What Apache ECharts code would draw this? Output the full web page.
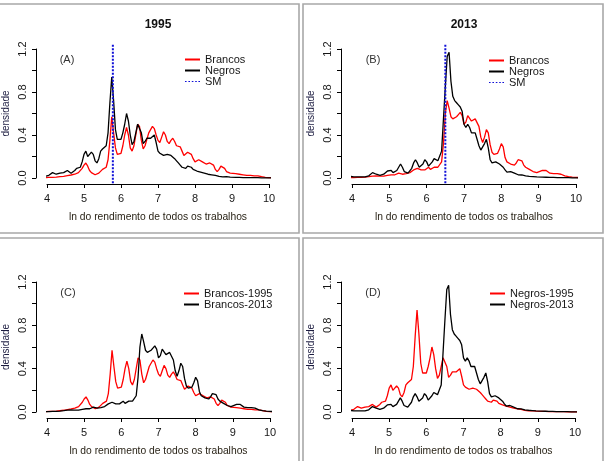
<!DOCTYPE html>
<html>
<head>
<meta charset="utf-8">
<script src="https://cdn.jsdelivr.net/npm/echarts@6/dist/echarts.min.js"></script>
<style>
html,body{margin:0;padding:0;background:#fff;}
#c{width:607px;height:461px;}
</style>
</head>
<body>
<div id="c"></div>
<script>
// ln income grid (shared by all density curves)
const xs = [
  3.75,3.8,3.85,3.9,3.95,4,4.05,4.1,4.15,4.2,
  4.25,4.3,4.35,4.4,4.45,4.5,4.55,4.6,4.65,4.7,
  4.75,4.8,4.85,4.9,4.95,5,5.05,5.1,5.15,5.2,
  5.25,5.3,5.35,5.4,5.45,5.5,5.55,5.6,5.65,5.7,
  5.75,5.8,5.85,5.9,5.95,6,6.05,6.1,6.15,6.2,
  6.25,6.3,6.35,6.4,6.45,6.5,6.55,6.6,6.65,6.7,
  6.75,6.8,6.85,6.9,6.95,7,7.05,7.1,7.15,7.2,
  7.25,7.3,7.35,7.4,7.45,7.5,7.55,7.6,7.65,7.7,
  7.75,7.8,7.85,7.9,7.95,8,8.05,8.1,8.15,8.2,
  8.25,8.3,8.35,8.4,8.45,8.5,8.55,8.6,8.65,8.7,
  8.75,8.8,8.85,8.9,8.95,9,9.1,9.2,9.3,9.4,
  9.5,9.6,9.7,9.8,9.9,10,10.1,10.25
];
const brancos1995 = [
  0.002,0.003,0.004,0.004,0.004,0.005,0.005,0.006,0.006,0.007,
  0.008,0.01,0.012,0.014,0.016,0.02,0.022,0.025,0.028,0.03,
  0.035,0.045,0.05,0.06,0.09,0.12,0.14,0.11,0.07,0.05,
  0.035,0.03,0.035,0.045,0.06,0.08,0.085,0.1,0.17,0.35,
  0.57,0.42,0.28,0.22,0.21,0.23,0.3,0.4,0.47,0.4,
  0.28,0.25,0.3,0.4,0.5,0.48,0.35,0.27,0.3,0.36,
  0.42,0.45,0.48,0.46,0.4,0.35,0.33,0.38,0.43,0.4,
  0.34,0.32,0.35,0.37,0.34,0.3,0.29,0.29,0.25,0.21,
  0.2,0.24,0.25,0.22,0.18,0.15,0.16,0.17,0.16,0.15,
  0.14,0.13,0.14,0.14,0.15,0.12,0.08,0.06,0.08,0.11,
  0.12,0.09,0.06,0.05,0.045,0.045,0.04,0.035,0.03,0.025,
  0.025,0.02,0.02,0.012,0.006,0.004,0.003,0.002
];
const negros1995 = [
  0.005,0.015,0.025,0.02,0.015,0.02,0.025,0.03,0.05,0.045,
  0.035,0.04,0.045,0.05,0.05,0.05,0.07,0.06,0.045,0.05,
  0.07,0.09,0.1,0.1,0.15,0.22,0.25,0.2,0.22,0.24,
  0.22,0.16,0.14,0.18,0.25,0.27,0.26,0.3,0.42,0.7,
  0.94,0.72,0.45,0.36,0.35,0.36,0.42,0.5,0.6,0.53,
  0.4,0.31,0.34,0.42,0.5,0.5,0.42,0.32,0.34,0.37,
  0.37,0.37,0.38,0.4,0.33,0.25,0.23,0.22,0.21,0.21,
  0.22,0.22,0.21,0.2,0.18,0.16,0.14,0.12,0.1,0.09,
  0.09,0.11,0.12,0.1,0.08,0.07,0.065,0.06,0.055,0.05,
  0.045,0.04,0.035,0.03,0.03,0.025,0.025,0.02,0.015,0.01,
  0.01,0.012,0.012,0.01,0.008,0.006,0.005,0.005,0.004,0.004,
  0.003,0.003,0.003,0.002,0.002,0.002,0.001,0.001
];
const brancos2013 = [
  0.002,0.002,0.003,0.003,0.003,0.004,0.004,0.004,0.005,0.005,
  0.006,0.007,0.008,0.01,0.012,0.015,0.018,0.02,0.02,0.02,
  0.018,0.016,0.017,0.02,0.025,0.03,0.03,0.028,0.03,0.035,
  0.045,0.045,0.035,0.035,0.04,0.045,0.05,0.06,0.075,0.09,
  0.09,0.08,0.075,0.07,0.075,0.085,0.1,0.08,0.08,0.1,
  0.11,0.1,0.11,0.15,0.32,0.6,0.72,0.65,0.57,0.55,
  0.55,0.57,0.59,0.61,0.58,0.5,0.52,0.58,0.58,0.53,
  0.53,0.55,0.55,0.48,0.38,0.33,0.38,0.45,0.42,0.31,
  0.24,0.22,0.22,0.23,0.27,0.32,0.29,0.19,0.15,0.14,
  0.13,0.12,0.12,0.14,0.17,0.18,0.16,0.12,0.1,0.09,
  0.08,0.07,0.06,0.055,0.05,0.055,0.07,0.07,0.045,0.04,
  0.04,0.035,0.02,0.012,0.008,0.005,0.004,0.002
];
const negros2013 = [
  0.005,0.015,0.025,0.02,0.015,0.012,0.01,0.01,0.01,0.01,
  0.01,0.01,0.01,0.012,0.02,0.03,0.05,0.05,0.035,0.03,
  0.025,0.025,0.035,0.05,0.065,0.08,0.07,0.05,0.05,0.07,
  0.1,0.13,0.1,0.06,0.045,0.045,0.06,0.09,0.14,0.17,
  0.14,0.1,0.1,0.13,0.17,0.15,0.11,0.11,0.15,0.18,
  0.17,0.16,0.17,0.25,0.55,0.85,1.13,1.17,0.9,0.76,
  0.72,0.7,0.68,0.66,0.62,0.5,0.47,0.5,0.47,0.42,
  0.42,0.42,0.36,0.3,0.26,0.25,0.32,0.36,0.28,0.17,
  0.14,0.14,0.15,0.14,0.13,0.12,0.1,0.075,0.055,0.05,
  0.06,0.055,0.045,0.035,0.03,0.03,0.028,0.025,0.02,0.018,
  0.016,0.015,0.013,0.012,0.01,0.01,0.008,0.007,0.006,0.005,
  0.004,0.004,0.003,0.003,0.002,0.002,0.001,0.001
];
// ln of the minimum wage (SM) in each year
const smLn1995 = 5.78;
const smLn2013 = 6.5;
// axis ticks
const xTicks = [4,5,6,7,8,9,10];
const yTicks = [0,0.2,0.4,0.6,0.8,1.0,1.2];
const yLabels = [0,0.4,0.8,1.2];
// R plot region vertical extent (ylim extended 4%)
const yUsr = [-0.048, 1.248];

const FONT = 'Liberation Sans, Arial, sans-serif';
const TXT = '#161616';
const DOTTED_ICON = 'path://M0 0h1.6v1h-1.6z M3.4 0h1.6v1h-1.6z M6.8 0h1.6v1h-1.6z M10.2 0h1.6v1h-1.6z M13.4 0h1.6v1h-1.6z';

const panels = [
  {grid:{left:47, top:49, width:222, height:129}, title:'1995', tag:'(A)', tagPos:[67,60],
   lines:[{name:'Brancos', y:brancos1995, color:'#ff0000'},{name:'Negros', y:negros1995, color:'#000000'}],
   sm:smLn1995, legend:{left:185, top:54, rows:10.5}},
  {grid:{left:352, top:49, width:224, height:129}, title:'2013', tag:'(B)', tagPos:[373,60],
   lines:[{name:'Brancos', y:brancos2013, color:'#ff0000'},{name:'Negros', y:negros2013, color:'#000000'}],
   sm:smLn2013, legend:{left:489, top:55, rows:10.5}},
  {grid:{left:47, top:282, width:223, height:130}, title:null, tag:'(C)', tagPos:[68,293],
   lines:[{name:'Brancos-1995', y:brancos1995, color:'#ff0000'},{name:'Brancos-2013', y:brancos2013, color:'#000000'}],
   sm:null, legend:{left:184, top:288, rows:9}},
  {grid:{left:352, top:282, width:223, height:130}, title:null, tag:'(D)', tagPos:[373,293],
   lines:[{name:'Negros-1995', y:negros1995, color:'#ff0000'},{name:'Negros-2013', y:negros2013, color:'#000000'}],
   sm:null, legend:{left:490, top:288, rows:9}}
];

const grid=[], xAxis=[], yAxis=[], series=[], legend=[], graphic=[];

// panel frames
graphic.push(
  {type:'rect', shape:{x:-3, y:4, width:302, height:229}, style:{fill:'none', stroke:'#a8a8a8', lineWidth:1.6}, silent:true},
  {type:'rect', shape:{x:303, y:4, width:300, height:229}, style:{fill:'none', stroke:'#a8a8a8', lineWidth:1.6}, silent:true},
  {type:'rect', shape:{x:-3, y:238, width:302, height:240}, style:{fill:'none', stroke:'#a8a8a8', lineWidth:1.6}, silent:true},
  {type:'rect', shape:{x:303, y:238, width:300, height:240}, style:{fill:'none', stroke:'#a8a8a8', lineWidth:1.6}, silent:true}
);

panels.forEach((p, i) => {
  grid.push(Object.assign({containLabel:false}, p.grid));
  xAxis.push({
    type:'value', gridIndex:i, min:xTicks[0], max:xTicks[xTicks.length-1], interval:1,
    offset:6,
    axisLine:{show:true, onZero:false, lineStyle:{color:'#000', width:1}},
    axisTick:{show:true, length:4, lineStyle:{color:'#000', width:1}},
    axisLabel:{show:true, margin:9, fontSize:11, color:TXT, fontFamily:FONT},
    splitLine:{show:false},
    name:'ln do rendimento de todos os trabalhos', nameLocation:'middle', nameGap:28.5,
    nameTextStyle:{fontSize:10.3, color:'#2a2418', fontFamily:FONT}
  });
  yAxis.push({
    type:'value', gridIndex:i, min:yTicks[0], max:yTicks[yTicks.length-1], interval:0.2,
    offset:11,
    axisLine:{show:true, onZero:false, lineStyle:{color:'#000', width:1}},
    axisTick:{show:true, length:4, customValues:yTicks, lineStyle:{color:'#000', width:1}},
    axisLabel:{show:true, customValues:yLabels, rotate:90, margin:8, fontSize:11, color:TXT, fontFamily:FONT,
      formatter:(v)=>Number(v).toFixed(1)},
    splitLine:{show:false},
    name:'densidade', nameLocation:'middle', nameGap:25, nameRotate:90,
    nameTextStyle:{fontSize:10, color:'#1c1c40', fontFamily:FONT}
  });
  p.lines.forEach(l => {
    series.push({
      type:'line', name:l.name, xAxisIndex:i, yAxisIndex:i, clip:false,
      showSymbol:false, symbol:'none', smooth:false, silent:true, animation:false,
      lineStyle:{color:l.color, width:1.3}, itemStyle:{color:l.color},
      data: xs.map((x,k)=>[x, l.y[k]])
    });
  });
  const names = p.lines.map(l=>({name:l.name, icon:'rect'}));
  if (p.sm !== null) {
    series.push({
      type:'line', name:'SM', xAxisIndex:i, yAxisIndex:i, clip:false,
      showSymbol:false, symbol:'none', silent:true, animation:false,
      lineStyle:{color:'#1010d8', width:2, type:[2,1.5]}, itemStyle:{color:'#1010d8'},
      data: yUsr.map(y=>[p.sm, y])
    });
    names.push({name:'SM', icon:DOTTED_ICON});
  }
  legend.push({
    data:names, orient:'vertical', left:p.legend.left, top:p.legend.top, padding:0,
    itemWidth:15, itemHeight:2, itemGap:0, selectedMode:false,
    textStyle:{fontSize:11, lineHeight:p.legend.rows, color:TXT, fontFamily:FONT}
  });
  if (p.title) {
    graphic.push({type:'text', x:p.grid.left + p.grid.width/2, y:25, silent:true,
      style:{text:p.title, fontSize:12, fontWeight:'bold', fill:'#111', fontFamily:FONT,
        textAlign:'center', textVerticalAlign:'middle'}});
  }
  graphic.push({type:'text', x:p.tagPos[0], y:p.tagPos[1], silent:true,
    style:{text:p.tag, fontSize:11, fill:'#333', fontFamily:FONT, textAlign:'center', textVerticalAlign:'middle'}});
});

const chart = echarts.init(document.getElementById('c'), null, {renderer:'canvas'});
chart.setOption({animation:false, backgroundColor:'#fff', grid, xAxis, yAxis, series, legend, graphic});
</script>
</body>
</html>
